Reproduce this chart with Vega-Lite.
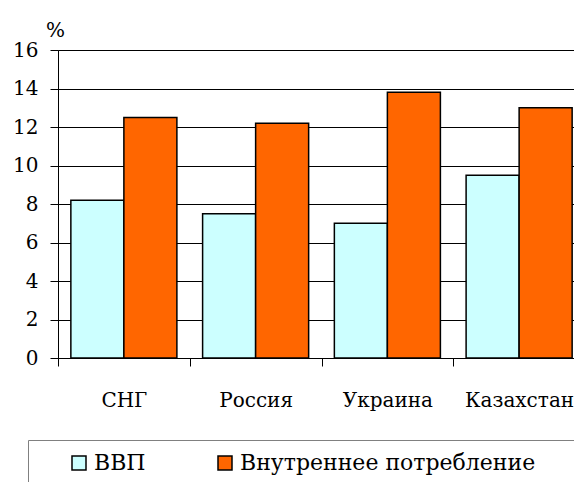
{
  "$schema": "https://vega.github.io/schema/vega-lite/v6.json",
  "autosize": "none",
  "padding": {"left": 58, "top": 50, "right": 0, "bottom": 124},
  "width": 527,
  "height": 308,
  "background": "white",
  "config": {
    "font": "DejaVu Serif",
    "view": {"stroke": "#808080", "strokeWidth": 1}
  },
  "data": {
    "values": [
      {"country": "СНГ", "series": "ВВП", "value": 8.2},
      {"country": "СНГ", "series": "Внутреннее потребление", "value": 12.5},
      {"country": "Россия", "series": "ВВП", "value": 7.5},
      {"country": "Россия", "series": "Внутреннее потребление", "value": 12.2},
      {"country": "Украина", "series": "ВВП", "value": 7.0},
      {"country": "Украина", "series": "Внутреннее потребление", "value": 13.8},
      {"country": "Казахстан", "series": "ВВП", "value": 9.5},
      {"country": "Казахстан", "series": "Внутреннее потребление", "value": 13.0}
    ]
  },
  "mark": {"type": "bar", "stroke": "black", "strokeWidth": 1.5},
  "encoding": {
    "x": {
      "field": "country", "type": "nominal", "sort": null,
      "scale": {"paddingInner": 0, "paddingOuter": 0},
      "axis": {
        "title": null, "labelAngle": 0, "tickBand": "extent", "labelFont": "DejaVu Serif",
        "domainColor": "black", "tickColor": "black", "tickSize": 8,
        "labelFontSize": 20, "labelColor": "black", "labelPadding": 24, "grid": false
      }
    },
    "xOffset": {
      "field": "series", "type": "nominal",
      "scale": {"paddingInner": 0, "paddingOuter": 0.2425}
    },
    "y": {
      "field": "value", "type": "quantitative",
      "scale": {"domain": [0, 16], "nice": false},
      "axis": {
        "values": [0, 2, 4, 6, 8, 10, 12, 14, 16],
        "labelFont": "DejaVu Serif", "titleFont": "DejaVu Serif",
        "title": "%", "titleAngle": 0, "titleX": -3, "titleY": -14,
        "titleAlign": "center", "titleBaseline": "alphabetic",
        "titleFontSize": 20, "titleFontWeight": "normal", "titleColor": "black",
        "labelFontSize": 20, "labelColor": "black", "labelPadding": 12,
        "tickSize": 8, "tickColor": "black", "domainColor": "black",
        "grid": true, "gridColor": "black", "gridOpacity": 1
      }
    },
    "color": {
      "field": "series", "type": "nominal",
      "scale": {"domain": ["ВВП", "Внутреннее потребление"], "range": ["#CCFFFF", "#FF6600"]},
      "legend": {
        "title": " ", "titleOrient": "right", "titlePadding": 100,
        "labelFont": "DejaVu Serif", "titleFont": "DejaVu Serif",
        "orient": "none", "legendX": -30, "legendY": 390,
        "direction": "horizontal", "strokeColor": "#808080", "padding": 12,
        "symbolType": "square", "symbolSize": 196, "symbolStrokeColor": "black",
        "symbolStrokeWidth": 1.5, "symbolOffset": 28, "symbolOpacity": 1,
        "labelFontSize": 22, "labelColor": "black", "labelOffset": 4,
        "columnPadding": 40, "labelLimit": 400
      }
    }
  }
}
